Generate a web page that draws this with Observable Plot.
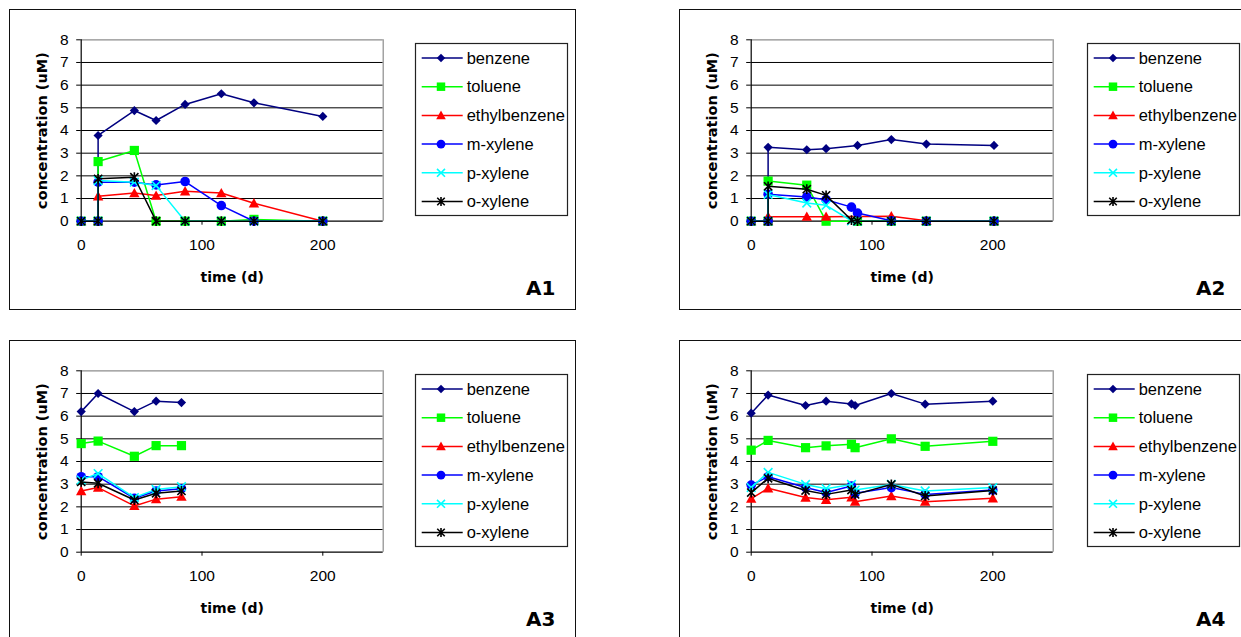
<!DOCTYPE html>
<html>
<head>
<meta charset="utf-8">
<script src="https://cdn.jsdelivr.net/npm/d3@7"></script>
<script src="https://cdn.jsdelivr.net/npm/@observablehq/plot@0.6"></script>
<style>
  html, body { margin: 0; padding: 0; background: #fff; }
  body { width: 1241px; height: 637px; overflow: hidden; position: relative; font-family: "Liberation Sans", Arial, sans-serif; }
  .panel { position: absolute; width: 567px; height: 301px; background: #fff; }
  .panel .frame { position: absolute; left: 0; top: 0; width: 567px; height: 301px; box-sizing: border-box; border: 1.5px solid #111; }
  .panel svg.chart { position: absolute; left: 0; top: 0; overflow: visible; }
  .panel svg.legend { position: absolute; overflow: visible; }
</style>
</head>
<body>
<script>
// ---------------- data ----------------
const seriesNames = ["benzene", "toluene", "ethylbenzene", "m-xylene", "p-xylene", "o-xylene"];
const yTicks = [0, 1, 2, 3, 4, 5, 6, 7, 8];
const xTicks = [0, 100, 200];
const panelLabels = ["A1", "A2", "A3", "A4"];

// A1
const daysA1 = [0, 14, 14, 44, 62, 86, 116, 143, 200];
const benzeneA1 = [0, 0, 3.78, 4.88, 4.44, 5.15, 5.62, 5.22, 4.62];
const tolueneA1 = [0, 0, 2.63, 3.12, 0, 0, 0, 0.08, 0];
const ethylbenzeneA1 = [0, 0, 1.1, 1.24, 1.13, 1.32, 1.24, 0.79, 0];
const mXyleneA1 = [0, 0, 1.72, 1.72, 1.6, 1.75, 0.69, 0, 0];
const pXyleneA1 = [0, 0, 1.79, 1.72, 1.57, 0, 0, 0, 0];
const oXyleneA1 = [0, 0, 1.87, 1.94, 0, 0, 0, 0, 0];

// A2
const daysA2 = [0, 14, 14, 46, 62, 83, 88, 116, 145, 201];
const benzeneA2 = [0, 0, 3.26, 3.15, 3.2, null, 3.34, 3.6, 3.4, 3.34];
const tolueneA2 = [0, 0, 1.77, 1.59, 0, null, 0, 0, 0, 0];
const ethylbenzeneA2 = [0, 0, 0.2, 0.2, 0.2, null, null, 0.22, 0.02, 0];
const mXyleneA2 = [0, 0, 1.19, 1.07, 0.95, 0.62, 0.36, 0.02, 0, 0];
const pXyleneA2 = [0, 0, 1.18, 0.8, 0.7, 0.02, 0, 0, 0, 0];
const oXyleneA2 = [0, 0, 1.54, 1.41, 1.14, 0.05, 0, 0, 0, 0];

// A3
const daysA3 = [0, 14, 44, 62, 83];
const benzeneA3 = [6.2, 7.0, 6.2, 6.66, 6.6];
const tolueneA3 = [4.79, 4.9, 4.23, 4.7, 4.7];
const ethylbenzeneA3 = [2.7, 2.85, 2.04, 2.34, 2.45];
const mXyleneA3 = [3.33, 3.33, 2.38, 2.7, 2.8];
const pXyleneA3 = [3.18, 3.47, 2.41, 2.77, 2.89];
const oXyleneA3 = [3.1, 3.04, 2.3, 2.6, 2.7];

// A4
const daysA4 = [0, 14, 45, 62, 83, 86, 116, 144, 200];
const benzeneA4 = [6.13, 6.93, 6.47, 6.66, 6.54, 6.47, 7.0, 6.53, 6.66];
const tolueneA4 = [4.5, 4.93, 4.61, 4.69, 4.76, 4.61, 5.0, 4.67, 4.89];
const ethylbenzeneA4 = [2.36, 2.82, 2.41, 2.31, 2.42, 2.23, 2.48, 2.23, 2.38];
const mXyleneA4 = [2.96, 3.33, 2.85, 2.63, 2.92, 2.6, 2.85, 2.55, 2.74];
const pXyleneA4 = [2.85, 3.52, 2.99, 2.8, 2.99, 2.74, 2.99, 2.7, 2.85];
const oXyleneA4 = [2.63, 3.26, 2.72, 2.55, 2.74, 2.55, 2.99, 2.48, 2.72];

// ---------------- styles ----------------
const seriesColors = ["#000080", "#00FF00", "#FF0000", "#0000FF", "#00FFFF", "#000000"];
const rad = s => Math.sqrt(s / Math.PI);
const symDiamond = { draw(c, s) { const r = rad(s); c.moveTo(0, -r); c.lineTo(r, 0); c.lineTo(0, r); c.lineTo(-r, 0); c.closePath(); } };
const symSquare = { draw(c, s) { const r = rad(s); c.moveTo(-r, -r); c.lineTo(r, -r); c.lineTo(r, r); c.lineTo(-r, r); c.closePath(); } };
const symTriangle = { draw(c, s) { const r = rad(s); c.moveTo(0, -r); c.lineTo(r, r * 0.8); c.lineTo(-r, r * 0.8); c.closePath(); } };
const symCircle = { draw(c, s) { const r = rad(s); c.moveTo(r, 0); c.arc(0, 0, r, 0, 2 * Math.PI); c.closePath(); } };
const symTimes = { draw(c, s) { const r = rad(s) * 0.9; c.moveTo(-r, -r); c.lineTo(r, r); c.moveTo(r, -r); c.lineTo(-r, r); } };
const symAsterisk = { draw(c, s) { const r = rad(s) * 0.85; c.moveTo(-r, -r); c.lineTo(r, r); c.moveTo(r, -r); c.lineTo(-r, r); c.moveTo(0, -r * 1.2); c.lineTo(0, r * 1.2); } };
const seriesSymbols = [symDiamond, symSquare, symTriangle, symCircle, symTimes, symAsterisk];
const seriesR = [4.6, 4.6, 5.2, 4.8, 4.8, 4.8];
const seriesFilled = [true, true, true, true, false, false];

const panels = [
  { label: "A1", days: daysA1, values: [benzeneA1, tolueneA1, ethylbenzeneA1, mXyleneA1, pXyleneA1, oXyleneA1], left: 9, top: 9, legendLeft: 406 },
  { label: "A2", days: daysA2, values: [benzeneA2, tolueneA2, ethylbenzeneA2, mXyleneA2, pXyleneA2, oXyleneA2], left: 679, top: 9, legendLeft: 408 },
  { label: "A3", days: daysA3, values: [benzeneA3, tolueneA3, ethylbenzeneA3, mXyleneA3, pXyleneA3, oXyleneA3], left: 9, top: 340, legendLeft: 406 },
  { label: "A4", days: daysA4, values: [benzeneA4, tolueneA4, ethylbenzeneA4, mXyleneA4, pXyleneA4, oXyleneA4], left: 679, top: 340, legendLeft: 408 }
];

const boldFont = "'DejaVu Sans', Verdana, sans-serif";

function drawPanel(p) {
  const div = document.createElement("div");
  div.className = "panel";
  div.style.left = p.left + "px";
  div.style.top = p.top + "px";
  document.body.appendChild(div);

  const seriesMarks = [];
  seriesNames.forEach((name, si) => {
    const pts = p.days.map((d, i) => ({ day: d, v: p.values[si][i] })).filter(q => q.v != null);
    const col = seriesColors[si];
    seriesMarks.push(Plot.line(pts, { x: "day", y: "v", stroke: col, strokeWidth: 1.5 }));
    seriesMarks.push(Plot.dot(pts, {
      x: "day", y: "v", symbol: seriesSymbols[si], r: seriesR[si],
      fill: seriesFilled[si] ? col : "none",
      stroke: seriesFilled[si] ? "none" : col,
      strokeWidth: seriesFilled[si] ? 0 : 1.6
    }));
  });

  const chart = Plot.plot({
    width: 567, height: 301,
    marginLeft: 71.7, marginRight: 193.3, marginTop: 30.3, marginBottom: 89.3,
    style: { fontFamily: "'Liberation Sans', Arial, sans-serif", fontSize: "15.5px", color: "#000", background: "transparent", overflow: "visible" },
    x: { domain: [0, 250] },
    y: { domain: [0, 8] },
    marks: [
      Plot.ruleY(yTicks.filter(t => t > 0 && t < 8), { stroke: "#000", strokeWidth: 1 }),
      Plot.ruleY([8], { stroke: "#8c8c8c", strokeWidth: 1.2 }),
      Plot.ruleX([250], { stroke: "#8c8c8c", strokeWidth: 1.2 }),
      Plot.axisY(yTicks, { tickSize: 4.5, tickPadding: 8, label: null, fontSize: 15.5 }),
      Plot.axisX(xTicks, { tickSize: 4, tickPadding: 14, label: null, fontSize: 15.5 }),
      Plot.ruleX([0], { stroke: "#000", strokeWidth: 1.2 }),
      Plot.ruleY([0], { stroke: "#000", strokeWidth: 1.2 }),
      ...seriesMarks,
      Plot.text(["concentration (uM)"], { frameAnchor: "left", rotate: -90, dx: -39, fontWeight: "bold", fontFamily: boldFont, fontSize: 14.5, lineAnchor: "middle", textAnchor: "middle" }),
      Plot.text(["time (d)"], { frameAnchor: "bottom", dy: 56, fontWeight: "bold", fontFamily: boldFont, fontSize: 14, lineAnchor: "middle", textAnchor: "middle" }),
      Plot.text([p.label], { frameAnchor: "bottom-right", dx: 172.3, dy: 67, fontWeight: "bold", fontFamily: boldFont, fontSize: 20, lineAnchor: "middle", textAnchor: "end" })
    ]
  });
  chart.classList.add("chart");
  div.appendChild(chart);

  const frame = document.createElement("div");
  frame.className = "frame";
  div.appendChild(frame);

  // legend
  const lw = 153, lh = 173;
  const svg = d3.select(div).append("svg").attr("class", "legend")
    .attr("width", lw).attr("height", lh)
    .style("left", p.legendLeft + "px").style("top", "34px");
  svg.append("rect").attr("x", 0.5).attr("y", 0.5).attr("width", lw - 1).attr("height", lh - 1)
    .attr("fill", "#fff").attr("stroke", "#222").attr("stroke-width", 1.2);
  seriesNames.forEach((name, si) => {
    const y = 15 + si * 28.7;
    const g = svg.append("g");
    g.append("line").attr("x1", 6.7).attr("x2", 47.7).attr("y1", y).attr("y2", y)
      .attr("stroke", seriesColors[si]).attr("stroke-width", 1.5);
    const r = seriesR[si] * 0.92;
    g.append("path").attr("transform", `translate(26,${y})`)
      .attr("d", d3.symbol(seriesSymbols[si], Math.PI * r * r)())
      .attr("fill", seriesFilled[si] ? seriesColors[si] : "none")
      .attr("stroke", seriesFilled[si] ? "none" : seriesColors[si])
      .attr("stroke-width", 1.6);
    g.append("text").attr("x", 51.7).attr("y", y).attr("dy", "0.35em")
      .attr("font-family", "'Liberation Sans', Arial, sans-serif").attr("font-size", 16.5)
      .attr("fill", "#000").text(name);
  });
}

panels.forEach(drawPanel);
</script>
</body>
</html>
